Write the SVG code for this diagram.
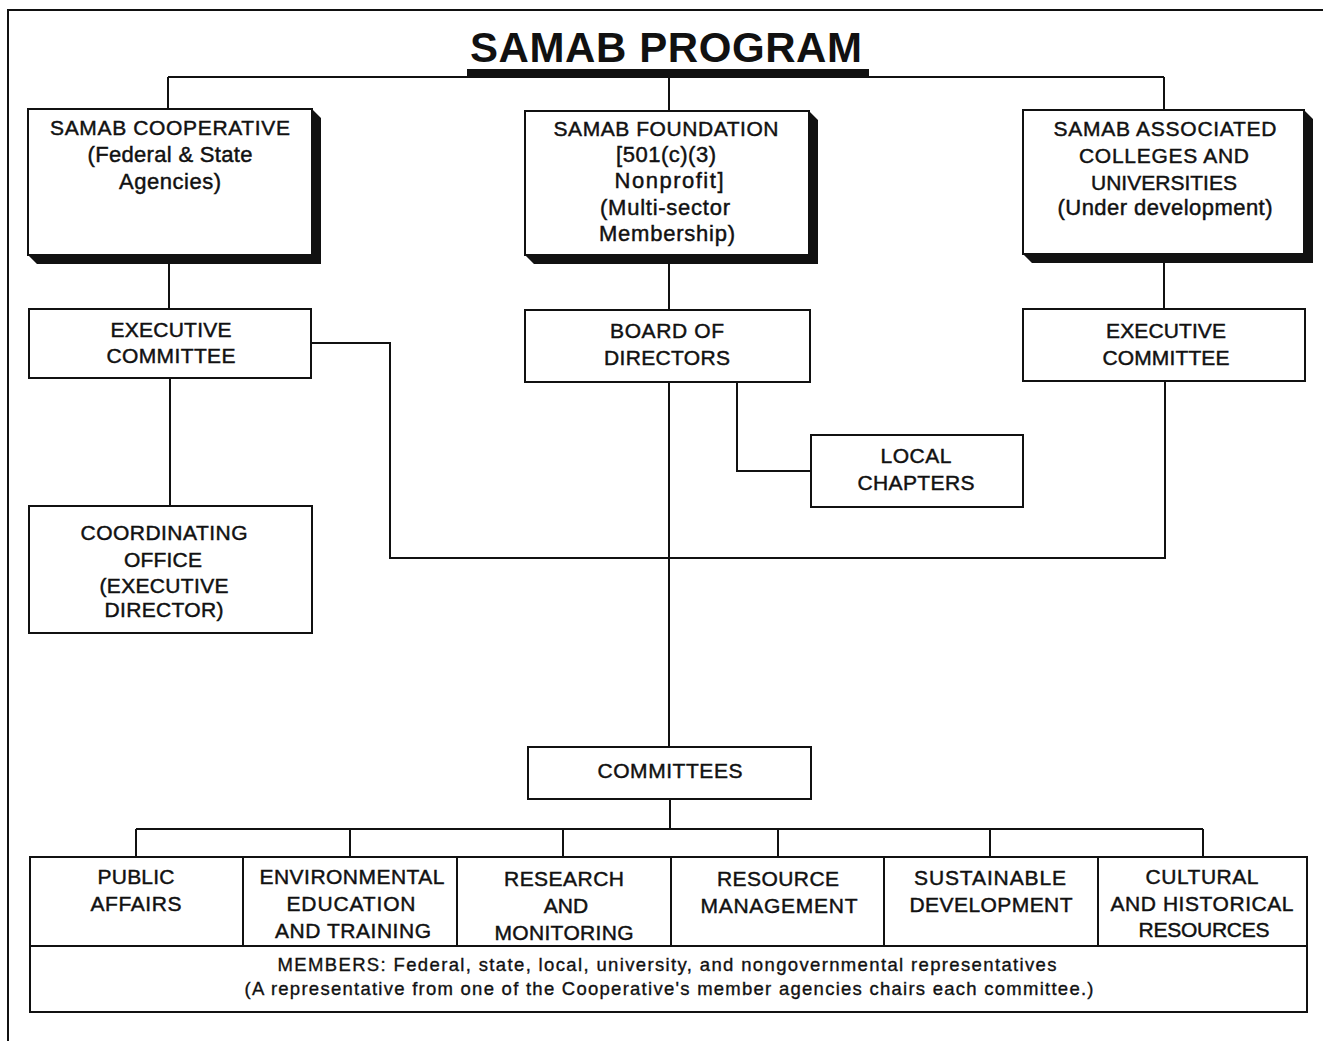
<svg xmlns="http://www.w3.org/2000/svg" width="1323" height="1041" viewBox="0 0 1323 1041">
<style>
.bg{fill:#fff}
.frame{fill:none;stroke:#111;stroke-width:2}
.box{fill:#fff;stroke:#111;stroke-width:2}
.shadow{fill:#111}
.con{fill:none;stroke:#111;stroke-width:2}
.lbl{font-family:"Liberation Sans",Arial,sans-serif;font-size:21px;fill:#111;stroke:#111;stroke-width:0.45px;text-anchor:middle}
.lc{font-size:22px}
.mem{font-family:"Liberation Sans",Arial,sans-serif;font-size:18.5px;fill:#111;stroke:#111;stroke-width:0.35px;text-anchor:middle}
.title{font-family:"Liberation Sans",Arial,sans-serif;font-size:42px;font-weight:bold;fill:#111;text-anchor:middle}
</style>
<rect class="bg" x="0" y="0" width="1323" height="1041"/>
<path class="frame" d="M8,1041 V10 H1323"/>
<g id="title">
<text class="title" x="666" y="62" textLength="392">SAMAB PROGRAM</text>
<rect x="467" y="69" width="402" height="8" fill="#111"/>
</g>
<g id="connectors">
<path class="con" d="M168,77 H1164 M168,77 V109 M669,77 V111 M1164,77 V110"/>
<path class="con" d="M169,264 V309 M669,264 V310 M1164,263 V309"/>
<path class="con" d="M170,378 V506"/>
<path class="con" d="M311,343 H390 V558 H1165 V381"/>
<path class="con" d="M669,382 V747"/>
<path class="con" d="M737,382 V471 H811"/>
<path class="con" d="M670,799 V829 M136,829 H1203 M136,829 V857 M350,829 V857 M563,829 V857 M778,829 V857 M990,829 V857 M1203,829 V857"/>
</g>
<g id="cooperative">
<polygon class="shadow" points="312,109 321,118 321,264 37,264 28,255 312,255"/>
<rect class="box" x="28" y="109" width="284" height="146"/>
<text class="lbl" x="170" y="135" textLength="240">SAMAB COOPERATIVE</text>
<text class="lbl lc" x="170" y="162" textLength="165">(Federal &amp; State</text>
<text class="lbl lc" x="170" y="189" textLength="102">Agencies)</text>
</g>
<g id="foundation">
<polygon class="shadow" points="809,111 818,120 818,264 534,264 525,255 809,255"/>
<rect class="box" x="525" y="111" width="284" height="144"/>
<text class="lbl" x="666" y="136" textLength="225">SAMAB FOUNDATION</text>
<text class="lbl lc" x="666" y="162" textLength="100">[501(c)(3)</text>
<text class="lbl lc" x="669" y="188" textLength="109">Nonprofit]</text>
<text class="lbl lc" x="665" y="215" textLength="130">(Multi-sector</text>
<text class="lbl lc" x="667" y="241" textLength="136">Membership)</text>
</g>
<g id="associated">
<polygon class="shadow" points="1304,110 1313,119 1313,263 1032,263 1023,254 1304,254"/>
<rect class="box" x="1023" y="110" width="281" height="144"/>
<text class="lbl" x="1165" y="136" textLength="223">SAMAB ASSOCIATED</text>
<text class="lbl" x="1164" y="163" textLength="170">COLLEGES AND</text>
<text class="lbl" x="1164" y="190" textLength="146">UNIVERSITIES</text>
<text class="lbl lc" x="1165" y="215" textLength="215">(Under development)</text>
</g>
<g id="exec-left">
<rect class="box" x="29" y="309" width="282" height="69"/>
<text class="lbl" x="171" y="337" textLength="121">EXECUTIVE</text>
<text class="lbl" x="171" y="363" textLength="129">COMMITTEE</text>
</g>
<g id="coordinating">
<rect class="box" x="29" y="506" width="283" height="127"/>
<text class="lbl" x="164" y="540" textLength="167">COORDINATING</text>
<text class="lbl" x="163" y="567" textLength="78">OFFICE</text>
<text class="lbl" x="164" y="593" textLength="129">(EXECUTIVE</text>
<text class="lbl" x="164" y="617" textLength="119">DIRECTOR)</text>
</g>
<g id="board">
<rect class="box" x="525" y="310" width="285" height="72"/>
<text class="lbl" x="667" y="338" textLength="114">BOARD OF</text>
<text class="lbl" x="667" y="365" textLength="126">DIRECTORS</text>
</g>
<g id="local">
<rect class="box" x="811" y="435" width="212" height="72"/>
<text class="lbl" x="916" y="463" textLength="71">LOCAL</text>
<text class="lbl" x="916" y="490" textLength="117">CHAPTERS</text>
</g>
<g id="exec-right">
<rect class="box" x="1023" y="309" width="282" height="72"/>
<text class="lbl" x="1166" y="338" textLength="120">EXECUTIVE</text>
<text class="lbl" x="1166" y="365" textLength="127">COMMITTEE</text>
</g>
<g id="committees">
<rect class="box" x="528" y="747" width="283" height="52"/>
<text class="lbl" x="670" y="778" textLength="145">COMMITTEES</text>
</g>
<g id="committee-row">
<rect class="box" x="30" y="857" width="1277" height="155"/>
<path class="con" d="M30,946 H1307 M243,857 V946 M457,857 V946 M671,857 V946 M884,857 V946 M1098,857 V946"/>
</g>
<g id="public-affairs">
<text class="lbl" x="136" y="884" textLength="77">PUBLIC</text>
<text class="lbl" x="136" y="911" textLength="91">AFFAIRS</text>
</g>
<g id="env-education">
<text class="lbl" x="352" y="884" textLength="185">ENVIRONMENTAL</text>
<text class="lbl" x="351" y="911" textLength="129">EDUCATION</text>
<text class="lbl" x="353" y="938" textLength="156">AND TRAINING</text>
</g>
<g id="research">
<text class="lbl" x="564" y="886" textLength="120">RESEARCH</text>
<text class="lbl" x="566" y="913">AND</text>
<text class="lbl" x="564" y="940" textLength="139">MONITORING</text>
</g>
<g id="resource-mgmt">
<text class="lbl" x="778" y="886" textLength="122">RESOURCE</text>
<text class="lbl" x="779" y="913" textLength="157">MANAGEMENT</text>
</g>
<g id="sustainable">
<text class="lbl" x="990" y="885" textLength="152">SUSTAINABLE</text>
<text class="lbl" x="991" y="912" textLength="163">DEVELOPMENT</text>
</g>
<g id="cultural">
<text class="lbl" x="1202" y="884" textLength="113">CULTURAL</text>
<text class="lbl" x="1202" y="911" textLength="183">AND HISTORICAL</text>
<text class="lbl" x="1204" y="937" textLength="131">RESOURCES</text>
</g>
<g id="members">
<text class="mem" x="667" y="971" textLength="779">MEMBERS:  Federal, state, local, university, and nongovernmental representatives</text>
<text class="mem" x="669" y="995" textLength="849">(A representative from one of the Cooperative's member agencies chairs each committee.)</text>
</g>
</svg>
